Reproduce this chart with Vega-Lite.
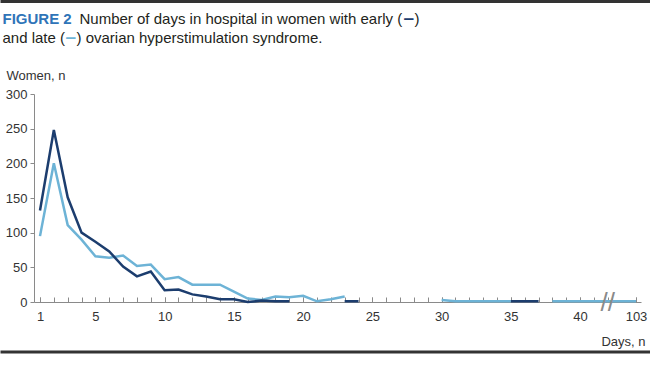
{
  "$schema": "https://vega.github.io/schema/vega-lite/v6.json",
  "width": 607,
  "height": 208,
  "autosize": {"type": "none"},
  "padding": {"left": 34, "top": 94, "right": 9, "bottom": 63},
  "background": "white",
  "config": {"view": {"stroke": null}, "font": "Liberation Sans", "axis": {"labelOverlap": false}},
  "datasets": {
    "late": [
      {"day": 1, "n": 95}, {"day": 2, "n": 200}, {"day": 3, "n": 111}, {"day": 4, "n": 90},
      {"day": 5, "n": 66}, {"day": 6, "n": 64}, {"day": 7, "n": 67}, {"day": 8, "n": 52},
      {"day": 9, "n": 54}, {"day": 10, "n": 33}, {"day": 11, "n": 36}, {"day": 12, "n": 25},
      {"day": 13, "n": 25}, {"day": 14, "n": 25}, {"day": 15, "n": 15}, {"day": 16, "n": 5},
      {"day": 17, "n": 3}, {"day": 18, "n": 8}, {"day": 19, "n": 7}, {"day": 20, "n": 9},
      {"day": 21, "n": 1}, {"day": 22, "n": 4}, {"day": 23, "n": 8}, {"day": 24, "n": null},
      {"day": 30, "n": 3}, {"day": 31, "n": 1}, {"day": 32, "n": 1}, {"day": 33, "n": 1},
      {"day": 34, "n": 1}, {"day": 35, "n": 1}, {"day": 36, "n": null},
      {"day": 38, "n": 1}, {"day": 39, "n": 1}, {"day": 40, "n": 1}, {"day": 41, "n": 1},
      {"day": 42, "n": 1}, {"day": 102, "n": 1}, {"day": 103, "n": 1}
    ],
    "early": [
      {"day": 1, "n": 132}, {"day": 2, "n": 248}, {"day": 3, "n": 151}, {"day": 4, "n": 100},
      {"day": 5, "n": 87}, {"day": 6, "n": 73}, {"day": 7, "n": 51}, {"day": 8, "n": 37},
      {"day": 9, "n": 44}, {"day": 10, "n": 17}, {"day": 11, "n": 18}, {"day": 12, "n": 11},
      {"day": 13, "n": 8}, {"day": 14, "n": 4}, {"day": 15, "n": 4}, {"day": 16, "n": 0},
      {"day": 17, "n": 2}, {"day": 18, "n": 1}, {"day": 19, "n": 1}, {"day": 20, "n": null},
      {"day": 23, "n": 1}, {"day": 24, "n": 1}, {"day": 25, "n": null},
      {"day": 35, "n": 1}, {"day": 36, "n": 1}, {"day": 37, "n": 1}
    ]
  },
  "resolve": {"scale": {"x": "independent"}, "axis": {"x": "independent"}},
  "layer": [
    {
      "data": {"name": "late"},
      "mark": {"type": "point", "opacity": 0},
      "encoding": {"x": {"field": "day", "type": "quantitative",
        "scale": {"type": "linear", "domain": [0.567, 42, 102, 103, 103.36], "range": [0, 573.8, 578, 602, 607], "nice": false, "zero": false},
        "axis": {"orient": "bottom",
          "values": [1,2,3,4,5,6,7,8,9,10,11,12,13,14,15,16,17,18,19,20,21,22,23,24,25,26,27,28,29,30,31,32,33,34,35,36,37,38,39,40,41,42,102,103],
          "labels": false, "domain": false, "grid": false, "tickSize": -5, "tickColor": "#8a8a8a", "title": null}}}
    },
    {
      "layer": [
        {
          "data": {"name": "late"},
          "mark": {"type": "line", "color": "#6db3d6", "strokeWidth": 2.5, "strokeJoin": "miter", "invalid": "break-paths-show-domains"},
          "encoding": {
            "x": {
              "field": "day", "type": "quantitative",
              "scale": {"type": "linear", "domain": [0.567, 42, 102, 103, 103.36], "range": [0, 573.8, 578, 602, 607], "nice": false, "zero": false},
              "axis": {
                "orient": "bottom",
                "values": [1, 5, 10, 15, 20, 25, 30, 35, 40, 103],
                "labelOverlap": false, "labelFlush": false,
                "tickSize": -5, "labelPadding": 13, "tickColor": "#8a8a8a", "domainColor": "#8a8a8a",
                "labelFontSize": 13, "labelColor": "#333333", "grid": false,
                "title": "Days, n", "titleX": 611, "titleY": 43, "titleAlign": "right", "titleAnchor": "end",
                "titleBaseline": "alphabetic", "titleFontSize": 13, "titleFontWeight": "normal", "titleColor": "#333333"
              }
            },
            "y": {
              "field": "n", "type": "quantitative",
              "scale": {"domain": [0, 300], "nice": false, "zero": true},
              "axis": {
                "values": [0, 50, 100, 150, 200, 250, 300], "tickCount": 7,
                "labelOverlap": false,
                "tickSize": 4, "labelPadding": 3, "tickColor": "#8a8a8a", "domainColor": "#8a8a8a",
                "labelFontSize": 13, "labelColor": "#333333", "grid": false,
                "title": "Women, n", "titleAngle": 0, "titleX": -28, "titleY": -15, "titleAlign": "left", "titleAnchor": "start",
                "titleBaseline": "alphabetic", "titleFontSize": 13, "titleFontWeight": "normal", "titleColor": "#333333"
              }
            }
          }
        },
        {
          "data": {"name": "early"},
          "mark": {"type": "line", "color": "#1c3d6e", "strokeWidth": 2.5, "strokeJoin": "miter", "invalid": "break-paths-show-domains"},
          "encoding": {
            "x": {"field": "day", "type": "quantitative"},
            "y": {"field": "n", "type": "quantitative", "axis": {
                "values": [0, 50, 100, 150, 200, 250, 300], "tickCount": 7,
                "labelOverlap": false,
                "tickSize": 4, "labelPadding": 3, "tickColor": "#8a8a8a", "domainColor": "#8a8a8a",
                "labelFontSize": 13, "labelColor": "#333333", "grid": false,
                "title": "Women, n", "titleAngle": 0, "titleX": -28, "titleY": -15, "titleAlign": "left", "titleAnchor": "start",
                "titleBaseline": "alphabetic", "titleFontSize": 13, "titleFontWeight": "normal", "titleColor": "#333333"
              }}
          }
        },
        {
          "data": {"values": [{"label": "//"}]},
          "mark": {"type": "text", "fontSize": 26, "color": "#8a8a8a", "baseline": "alphabetic", "align": "center", "dy": 9},
          "encoding": {
            "x": {"datum": 42.05},
            "y": {"datum": 0, "axis": {
                "values": [0, 50, 100, 150, 200, 250, 300], "tickCount": 7,
                "labelOverlap": false,
                "tickSize": 4, "labelPadding": 3, "tickColor": "#8a8a8a", "domainColor": "#8a8a8a",
                "labelFontSize": 13, "labelColor": "#333333", "grid": false,
                "title": "Women, n", "titleAngle": 0, "titleX": -28, "titleY": -15, "titleAlign": "left", "titleAnchor": "start",
                "titleBaseline": "alphabetic", "titleFontSize": 13, "titleFontWeight": "normal", "titleColor": "#333333"
              }},
            "text": {"field": "label"}
          }
        }
      ]
    },
    {
      "data": {"name": "late"},
      "mark": {"type": "point", "opacity": 0},
      "encoding": {"x": {"field": "day", "type": "quantitative", "axis": {"orient": "top", "domain": false, "ticks": false, "labels": false, "grid": false,
        "title": "FIGURE 2", "titleX": -32, "titleY": -71, "titleAlign": "left", "titleAnchor": "start", "titleBaseline": "alphabetic",
        "titleFontSize": 15, "titleFontWeight": "bold", "titleColor": "#2f74b8"}}}
    },
    {
      "data": {"name": "late"},
      "mark": {"type": "point", "opacity": 0},
      "encoding": {"x": {"field": "day", "type": "quantitative", "axis": {"orient": "top", "domain": false, "ticks": false, "labels": false, "grid": false,
        "title": "Number of days in hospital in women with early (", "titleX": 45, "titleY": -71, "titleAlign": "left", "titleAnchor": "start", "titleBaseline": "alphabetic",
        "titleFontSize": 15, "titleFontWeight": "normal", "titleColor": "#231f20"}}}
    },
    {
      "data": {"name": "late"},
      "mark": {"type": "point", "opacity": 0},
      "encoding": {"x": {"field": "day", "type": "quantitative", "axis": {"orient": "top", "domain": false, "ticks": false, "labels": false, "grid": false,
        "title": "–", "titleX": 369, "titleY": -71, "titleAlign": "left", "titleAnchor": "start", "titleBaseline": "alphabetic",
        "titleFontSize": 19, "titleFontWeight": "bold", "titleColor": "#1c3d6e"}}}
    },
    {
      "data": {"name": "late"},
      "mark": {"type": "point", "opacity": 0},
      "encoding": {"x": {"field": "day", "type": "quantitative", "axis": {"orient": "top", "domain": false, "ticks": false, "labels": false, "grid": false,
        "title": ")", "titleX": 380, "titleY": -71, "titleAlign": "left", "titleAnchor": "start", "titleBaseline": "alphabetic",
        "titleFontSize": 15, "titleFontWeight": "normal", "titleColor": "#231f20"}}}
    },
    {
      "data": {"name": "late"},
      "mark": {"type": "point", "opacity": 0},
      "encoding": {"x": {"field": "day", "type": "quantitative", "axis": {"orient": "top", "domain": false, "ticks": false, "labels": false, "grid": false,
        "title": "and late (", "titleX": -32, "titleY": -52, "titleAlign": "left", "titleAnchor": "start", "titleBaseline": "alphabetic",
        "titleFontSize": 15, "titleFontWeight": "normal", "titleColor": "#231f20"}}}
    },
    {
      "data": {"name": "late"},
      "mark": {"type": "point", "opacity": 0},
      "encoding": {"x": {"field": "day", "type": "quantitative", "axis": {"orient": "top", "domain": false, "ticks": false, "labels": false, "grid": false,
        "title": "–", "titleX": 31, "titleY": -52, "titleAlign": "left", "titleAnchor": "start", "titleBaseline": "alphabetic",
        "titleFontSize": 19, "titleFontWeight": "bold", "titleColor": "#6db3d6"}}}
    },
    {
      "data": {"name": "late"},
      "mark": {"type": "point", "opacity": 0},
      "encoding": {"x": {"field": "day", "type": "quantitative", "axis": {"orient": "top", "domain": false, "ticks": false, "labels": false, "grid": false,
        "title": ") ovarian hyperstimulation syndrome.", "titleX": 42, "titleY": -52, "titleAlign": "left", "titleAnchor": "start", "titleBaseline": "alphabetic",
        "titleFontSize": 15, "titleFontWeight": "normal", "titleColor": "#231f20"}}}
    },
    {
      "data": {"name": "late"},
      "mark": {"type": "point", "opacity": 0},
      "encoding": {"x": {"field": "day", "type": "quantitative", "scale": {"range": [-34, 616]},
        "axis": {"orient": "top", "offset": 93, "domainWidth": 3, "domainColor": "#333333", "ticks": false, "labels": false, "grid": false, "title": null}}}
    },
    {
      "data": {"name": "late"},
      "mark": {"type": "point", "opacity": 0},
      "encoding": {"x": {"field": "day", "type": "quantitative", "scale": {"range": [-34, 616]},
        "axis": {"orient": "bottom", "offset": 49.5, "domainWidth": 3, "domainColor": "#333333", "ticks": false, "labels": false, "grid": false, "title": null}}}
    }
  ]
}
